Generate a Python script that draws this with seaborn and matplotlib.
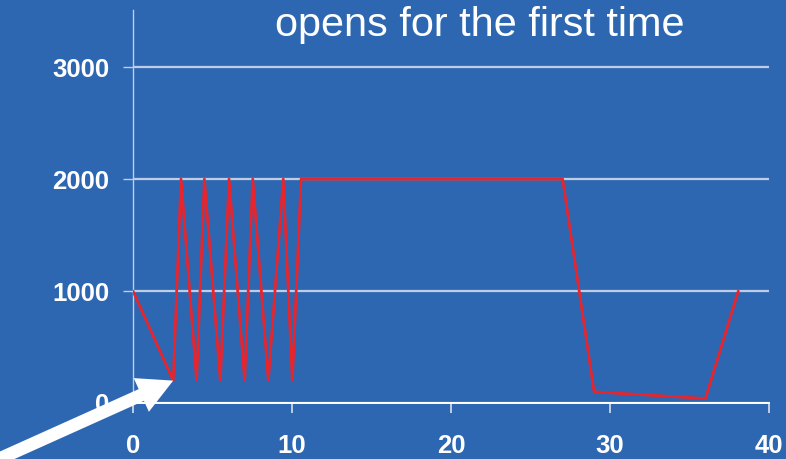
import matplotlib
matplotlib.use("Agg")
import matplotlib.pyplot as plt
import seaborn as sns
import pandas as pd

# Window size over time
time_points = [0, 2.53, 3.02, 4.0, 4.49, 5.49, 6.04, 7.02, 7.53, 8.51, 9.45, 10.02, 10.57, 27.02, 29.0, 36.0, 38.07]
window_size = [1000, 200, 2000, 200, 2000, 200, 2000, 200, 2000, 200, 2000, 200, 2000, 2000, 100, 40, 1000]
x_ticks = [0, 10, 20, 30, 40]
y_ticks = [0, 1000, 2000, 3000]
title_text = "opens for the first time"

BG = "#2D67B2"
GRID = "#BFCDE5"
LINE = "#E8242C"

sns.set_theme(style="dark", rc={
    "axes.facecolor": BG,
    "figure.facecolor": BG,
    "axes.edgecolor": "white",
    "text.color": "white",
    "xtick.color": GRID,
    "ytick.color": GRID,
    "xtick.labelcolor": "white",
    "ytick.labelcolor": "white",
})
plt.rcParams["font.family"] = ["Liberation Sans", "DejaVu Sans"]

df = pd.DataFrame({"t": time_points, "w": window_size})

fig = plt.figure(figsize=(7.86, 4.59), dpi=100)
ax = fig.add_axes([133 / 786, 1 - 403 / 459, (769 - 133) / 786, (403 - 10) / 459])

sns.lineplot(data=df, x="t", y="w", ax=ax, color=LINE, linewidth=2.0, sort=False, zorder=3)

ax.set_xlim(0, 40)
ax.set_ylim(0, 3510)
ax.set_xticks(x_ticks)
ax.set_yticks(y_ticks)
ax.set_xlabel("")
ax.set_ylabel("")

ax.yaxis.grid(True, color=GRID, linewidth=1.6)
ax.xaxis.grid(False)
for side in ("top", "right"):
    ax.spines[side].set_visible(False)
ax.spines["left"].set_color(GRID)
ax.spines["left"].set_linewidth(1.0)
ax.spines["bottom"].set_color("white")
ax.spines["bottom"].set_linewidth(1.4)

ax.tick_params(axis="x", direction="out", length=7, width=1.4, pad=15, bottom=True)
ax.tick_params(axis="y", direction="out", length=7, width=1.0, pad=10, left=True)
for lbl in ax.get_xticklabels() + ax.get_yticklabels():
    lbl.set_fontweight("bold")
    lbl.set_fontsize(18.5)

fig.text(275 / 786, 1 - 36 / 459, title_text, fontsize=29.8, color="white",
         ha="left", va="baseline")

# Pointer to the first low point: a filled arrow with a wide head
ax.annotate("", xy=(time_points[1], window_size[1]), xycoords="data",
            xytext=(-10, -4), textcoords="figure pixels",
            annotation_clip=False,
            arrowprops=dict(arrowstyle="simple,head_length=0.9,head_width=0.95,tail_width=0.33",
                            mutation_scale=28, facecolor="white", edgecolor="none",
                            lw=0, shrinkA=0, shrinkB=0),
            zorder=10)

fig.savefig("out.png", dpi=100, facecolor=BG)
